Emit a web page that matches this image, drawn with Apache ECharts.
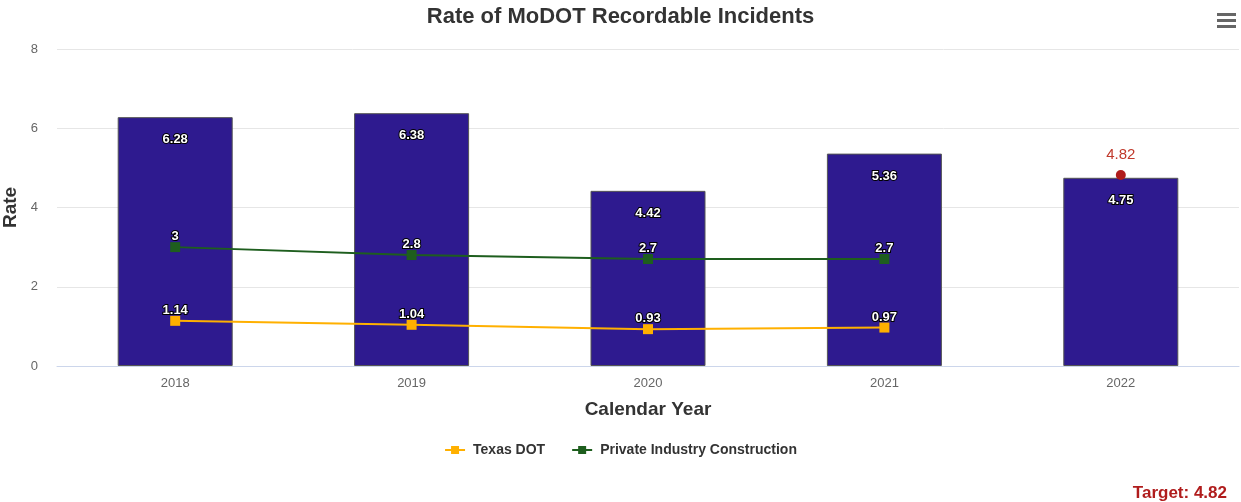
<!DOCTYPE html>
<html>
<head>
<meta charset="utf-8">
<script src="https://cdn.jsdelivr.net/npm/echarts@6/dist/echarts.min.js"></script>
<style>html,body{margin:0;padding:0;background:#fff}#c{width:1241px;height:502px}</style>
</head>
<body>
<div id="c"></div>
<script>
var years = ['2018', '2019', '2020', '2021', '2022'];
var modotRate = [6.28, 6.38, 4.42, 5.36, 4.75];
var texasDot = [1.14, 1.04, 0.93, 0.97, null];
var privateConstruction = [3, 2.8, 2.7, 2.7, null];
var target = [null, null, null, null, 4.82];
var targetValue = 4.82;
var yTicks = [0, 2, 4, 6, 8];

var chart = echarts.init(document.getElementById('c'), null, {renderer: 'canvas'});
var font = 'Helvetica, Arial, "Liberation Sans", sans-serif';
var outlined = {color: '#fff', fontWeight: 'bold', fontSize: 13, fontFamily: font, textBorderColor: '#000', textBorderWidth: 2};
chart.setOption({
  animation: false,
  textStyle: {fontFamily: font},
  title: {
    text: 'Rate of MoDOT Recordable Incidents',
    left: 'center', top: 1,
    textStyle: {fontSize: 22, fontWeight: 'bold', color: '#333', fontFamily: font}
  },
  legend: {
    data: ['Texas DOT', 'Private Industry Construction'],
    left: 'center', top: 438,
    itemWidth: 20, itemHeight: 10, itemGap: 26,
    textStyle: {fontSize: 14, fontWeight: 'bold', color: '#333', fontFamily: font, padding: [0, 0, 0, 3]}
  },
  grid: {left: 57, right: 2, top: 49, bottom: 136, containLabel: false, outerBoundsMode: 'none'},
  xAxis: {
    type: 'category', data: years,
    axisLine: {lineStyle: {color: '#ccd6eb'}},
    axisTick: {show: false},
    axisLabel: {color: '#666', fontSize: 13, margin: 11},
    name: 'Calendar Year', nameLocation: 'middle', nameGap: 34,
    nameTextStyle: {fontSize: 19, fontWeight: 'bold', color: '#333'}
  },
  yAxis: {
    type: 'value', min: yTicks[0], max: yTicks[yTicks.length - 1], interval: 2,
    axisLine: {show: false}, axisTick: {show: false},
    splitLine: {lineStyle: {color: '#e6e6e6'}},
    axisLabel: {color: '#666', fontSize: 13, margin: 19},
    name: 'Rate', nameLocation: 'middle', nameGap: 35,
    nameTextStyle: {fontSize: 19, fontWeight: 'bold', color: '#333'}
  },
  series: [
    {
      name: 'MoDOT', type: 'bar', data: modotRate, barWidth: 115, z: 1,
      itemStyle: {color: '#2e1a8f', borderColor: '#555', borderWidth: 1},
      label: Object.assign({show: true, position: 'insideTop', distance: 16}, outlined)
    },
    {
      name: 'Texas DOT', type: 'line', data: texasDot, z: 3,
      symbol: 'rect', symbolSize: 10, lineStyle: {width: 2, color: '#ffb000'},
      itemStyle: {color: '#ffb000'},
      label: Object.assign({show: true, position: 'top', distance: -1}, outlined)
    },
    {
      name: 'Private Industry Construction', type: 'line', data: privateConstruction, z: 3,
      symbol: 'rect', symbolSize: 10, lineStyle: {width: 2, color: '#1e5e1e'},
      itemStyle: {color: '#1e5e1e'},
      label: Object.assign({show: true, position: 'top', distance: -1}, outlined)
    },
    {
      name: 'Target', type: 'scatter', data: target, z: 4,
      symbol: 'circle', symbolSize: 10, itemStyle: {color: '#b01c1c', opacity: 1},
      label: {show: true, position: 'top', distance: 8, color: '#c0392b', fontSize: 15, fontFamily: font}
    }
  ],
  graphic: [
    {type: 'text', right: 14, bottom: 0, style: {text: 'Target: ' + targetValue, fill: '#b01c1c', font: 'bold 17px ' + font}},
    {type: 'rect', right: 5, top: 13, shape: {width: 19, height: 3}, style: {fill: '#666'}},
    {type: 'rect', right: 5, top: 19, shape: {width: 19, height: 3}, style: {fill: '#666'}},
    {type: 'rect', right: 5, top: 25, shape: {width: 19, height: 3}, style: {fill: '#666'}}
  ]
});
</script>
</body>
</html>
